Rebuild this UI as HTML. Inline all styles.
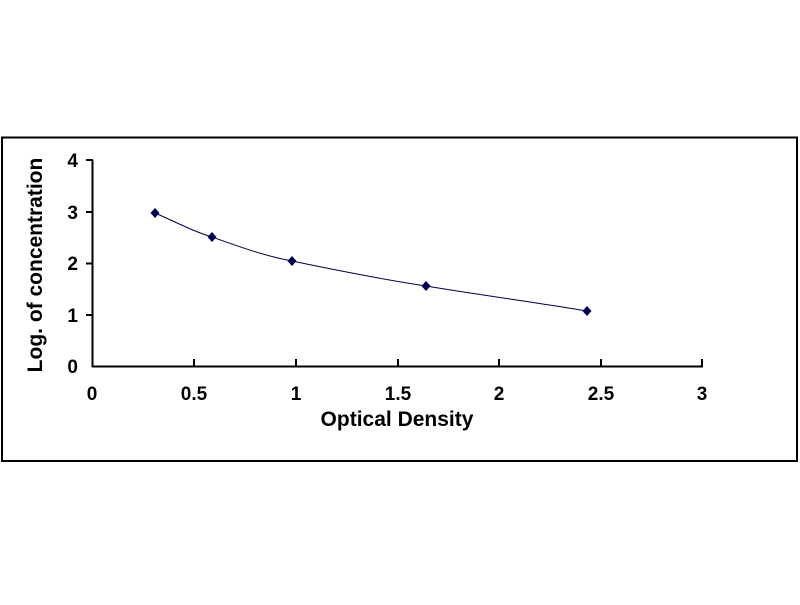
<!DOCTYPE html>
<html><head><style>
body{margin:0;background:#fff;}
svg text{font-family:"Liberation Sans",Arial,sans-serif;font-weight:bold;fill:#000;}
</style></head><body>
<svg width="800" height="600" xmlns="http://www.w3.org/2000/svg">
<rect x="2" y="137.5" width="795" height="323.5" fill="#fff" stroke="#000" stroke-width="2"/>
<g stroke="#000" stroke-width="2" fill="none">
<line x1="92.5" y1="160" x2="92.5" y2="367"/>
<line x1="92" y1="366.5" x2="703" y2="366.5"/>
<line x1="86" y1="160" x2="93" y2="160"/>
<line x1="86" y1="212" x2="93" y2="212"/>
<line x1="86" y1="263.5" x2="93" y2="263.5"/>
<line x1="86" y1="315" x2="93" y2="315"/>
<line x1="194" y1="359" x2="194" y2="367"/>
<line x1="296" y1="359" x2="296" y2="367"/>
<line x1="398" y1="359" x2="398" y2="367"/>
<line x1="499" y1="359" x2="499" y2="367"/>
<line x1="601" y1="359" x2="601" y2="367"/>
<line x1="702" y1="359" x2="702" y2="367"/>
</g>
<g font-size="19" text-anchor="end">
<text x="78" y="167">4</text>
<text x="78" y="219">3</text>
<text x="78" y="270">2</text>
<text x="78" y="322">1</text>
<text x="78" y="373">0</text>
</g>
<g font-size="19" text-anchor="middle">
<text x="92" y="400">0</text>
<text x="194" y="400">0.5</text>
<text x="296" y="400">1</text>
<text x="398" y="400">1.5</text>
<text x="499" y="400">2</text>
<text x="601" y="400">2.5</text>
<text x="702" y="400">3</text>
</g>
<text x="397" y="426" font-size="21" text-anchor="middle">Optical Density</text>
<text transform="translate(42,265) rotate(-90)" font-size="21" text-anchor="middle">Log. of concentration</text>
<path d="M155,213 C180,224 195,232 212,237 C240,247 265,256 292,261 C340,271 380,279 426,286 C480,295 540,303 587,311" fill="none" stroke="#000040" stroke-width="1"/>
<g fill="#000050">
<path d="M155,208 l4.5,5 -4.5,5 -4.5,-5z"/>
<path d="M212,232 l4.5,5 -4.5,5 -4.5,-5z"/>
<path d="M292,256 l4.5,5 -4.5,5 -4.5,-5z"/>
<path d="M426,281 l4.5,5 -4.5,5 -4.5,-5z"/>
<path d="M587,306 l4.5,5 -4.5,5 -4.5,-5z"/>
</g>
</svg>
</body></html>
